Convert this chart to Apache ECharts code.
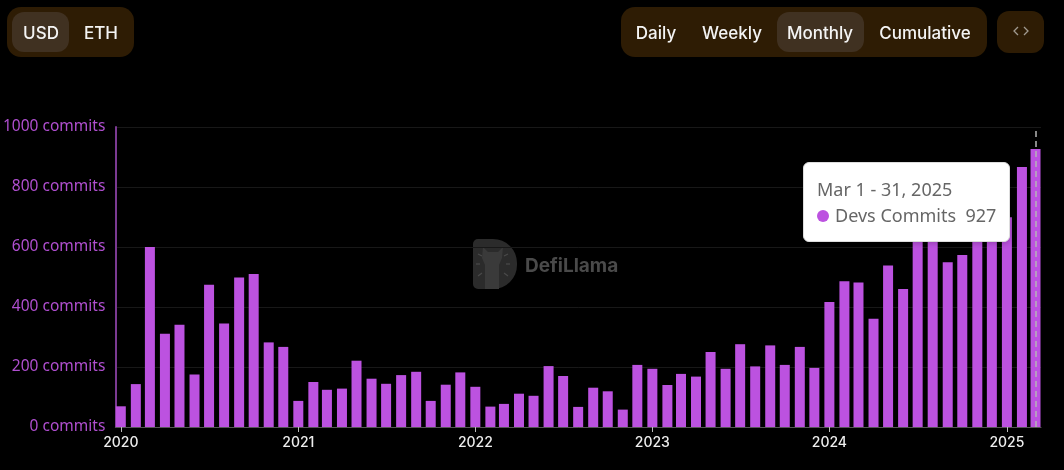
<!DOCTYPE html>
<html><head><meta charset="utf-8">
<style>html,body{margin:0;padding:0;background:#000;overflow:hidden}#c{width:1064px;height:470px}</style>
<script src="https://cdn.jsdelivr.net/npm/echarts@6/dist/echarts.min.js"></script>
</head><body><div id="c"></div>
<script>
const seriesName = 'Devs Commits';
const tipTitle = 'Mar 1 - 31, 2025';
const months = [];
for (const y of [2020,2021,2022,2023,2024,2025]) for (let m=1;m<=(y===2025?3:12);m++) months.push(y+'-'+String(m).padStart(2,'0')+'-01');
const commits = [69,143,600,311,341,175,474,345,498,510,282,267,
87,150,124,128,221,161,144,173,184,87,141,182,
134,68,77,111,104,203,170,67,131,119,58,207,
194,140,177,168,250,194,276,202,272,207,267,197,
417,486,482,361,538,460,650,640,549,573,650,660,
699,867,927];
const leftButtons = ['USD','ETH'];
const rightButtons = ['Daily','Weekly','Monthly','Cumulative'];
const FONT = "Inter, 'Noto Sans', sans-serif";
const BODY = "'Noto Sans', sans-serif";
const PILL = '#2e1c04', ACTIVE = '#403121';
const YEAR_MS = 365*24*3600*1000;
function pill(x,y,w,h,r,fill){return {type:'rect',shape:{x,y,width:w,height:h,r},style:{fill},silent:true,z:1};}
function label(x,y,text,opt){return {type:'text',x,y,silent:true,z:2,style:Object.assign({text,fill:'#f4f4f4',font:'500 17px '+FONT,align:'center',verticalAlign:'middle'},opt||{})};}
function stroke(points,color,w,z){return {type:'polyline',shape:{points},style:{stroke:color,lineWidth:w,fill:null},silent:true,z:z==null?2:z};}
const chart = echarts.init(document.getElementById('c'),null,{renderer:'canvas'});
chart.setOption({
  backgroundColor:'#000', animation:false,
  grid:{left:115,right:23,top:127,bottom:43,containLabel:false},
  tooltip:{trigger:'axis',alwaysShowContent:true,transitionDuration:0,
    backgroundColor:'#fff',borderColor:'#ddd',borderWidth:1,padding:[13,13],
    extraCssText:'border-radius:6px;box-shadow:0 1px 6px rgba(0,0,0,.25);box-sizing:border-box;width:207px;height:80px;',
    position:[803,162],
    axisPointer:{type:'line',lineStyle:{color:'#b5b5b5',type:[6,4],width:1.5},label:{show:false}},
    formatter:p=>'<div style="font:18px/26px '+BODY+';color:#666">'+tipTitle+'</div>'+
      '<div style="font:18px/26px '+BODY+';color:#666;white-space:nowrap"><span style="display:inline-block;width:12px;height:12px;border-radius:50%;background:#bc52e0;margin-right:6px"></span>'+p[0].seriesName+'&nbsp;&nbsp;'+p[0].value[1]+'</div>'
  },
  xAxis:{type:'time',min:'2019-12-31',max:'2025-03-02',minInterval:YEAR_MS,splitNumber:5,
    axisLine:{lineStyle:{color:'#555',width:1}},
    axisTick:{show:true,length:5,lineStyle:{color:'#bbb'}},
    axisLabel:{color:'#eee',fontSize:14,fontWeight:500,fontFamily:FONT,margin:9,hideOverlap:false,
      showMinLabel:false,showMaxLabel:false,formatter:'{yyyy}'},
    splitLine:{show:false}},
  yAxis:{type:'value',min:0,max:1000,interval:200,
    axisLine:{show:true,lineStyle:{color:'#7b3a92',width:2}},
    axisTick:{show:false},
    axisLabel:{color:'#b04fd0',fontSize:15.5,fontFamily:BODY,margin:10,formatter:v=>v+' commits'},
    splitLine:{lineStyle:{color:'#181818',width:1}}},
  series:[{name:seriesName,type:'bar',barWidth:10,itemStyle:{color:'#bc52e0'},
    emphasis:{disabled:true},clip:true,z:3,
    data:months.map((m,i)=>[m,commits[i]])}],
  graphic:[
    pill(7,7,127,50,14,PILL),pill(12,12,57,40,12,ACTIVE),
    label(41,34,leftButtons[0]),label(101,34,leftButtons[1]),
    pill(621,7,366,50,14,PILL),pill(777,12,87,40,12,ACTIVE),
    label(656,34,rightButtons[0]),label(732,34,rightButtons[1]),label(820,34,rightButtons[2]),label(925,34,rightButtons[3]),
    pill(997,11,47,42,12,PILL),
    stroke([[1018,27],[1014,31],[1018,35]],'#a09a90',1.3),
    stroke([[1024,27],[1028,31],[1024,35]],'#a09a90',1.3),
    {type:'rect',silent:true,z:0,shape:{x:473,y:239,width:44,height:50,r:[5,24,24,5]},style:{fill:'#2b2b2b'}},
    {type:'polygon',silent:true,z:0,shape:{points:[[483,247],[488,252],[498,252],[503,247],[502,258],[499,265],[499,289],[485,289],[485,265],[482,258]]},style:{fill:'#3a3a3a'}},
    stroke([[478,254],[482,256]],'#4a4a4a',1.2,0),stroke([[504,256],[508,254]],'#4a4a4a',1.2,0),
    stroke([[476,264],[480,264]],'#4a4a4a',1.2,0),stroke([[506,264],[510,264]],'#4a4a4a',1.2,0),
    stroke([[478,276],[482,273]],'#4a4a4a',1.2,0),stroke([[504,273],[508,276]],'#4a4a4a',1.2,0),
    label(525,266,'DefiLlama',{fill:'#4a4a4a',font:'700 19px '+FONT,align:'left'})
  ]
});
chart.dispatchAction({type:'showTip',seriesIndex:0,dataIndex:commits.length-1});
</script></body></html>
